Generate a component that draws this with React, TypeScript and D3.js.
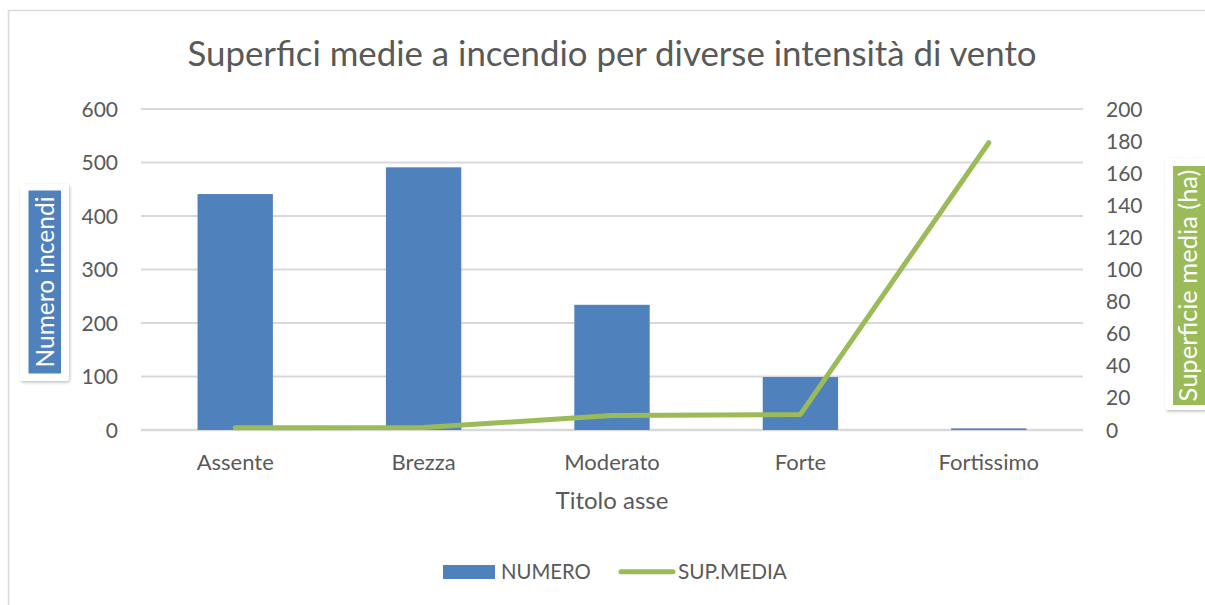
import React from "react";
import * as d3 from "d3";

const categories = ["Assente", "Brezza", "Moderato", "Forte", "Fortissimo"];
const numero = [441, 491, 234, 99, 3];
const supMedia = [1.4, 1.5, 9, 9.7, 179];
const leftTicks = [0, 100, 200, 300, 400, 500, 600];
const rightTicks = [0, 20, 40, 60, 80, 100, 120, 140, 160, 180, 200];

const W = 1205;
const H = 605;
const FONT = "Lato, 'Open Sans', sans-serif";
const TEXT = "#595959";
const BLUE = "#4F81BD";
const GREEN = "#9BBB59";
const GRID = "#D9D9D9";

export default function App() {
  const x = d3.scaleBand<string>().domain(categories).range([141, 1083]).paddingInner(0.6).paddingOuter(0.3);
  const yL = d3.scaleLinear().domain([0, 600]).range([430, 109]);
  const yR = d3.scaleLinear().domain([0, 200]).range([430, 109]);
  const bw = x.bandwidth();
  const line = d3
    .line<number>()
    .x((_, i) => (x(categories[i]) as number) + bw / 2)
    .y((d) => yR(d));

  return (
    <svg width={W} height={H} style={{ position: "absolute", left: 0, top: 0, background: "#fff" }} fontFamily={FONT}>
      <defs>
        <filter id="sh" x="-20%" y="-20%" width="140%" height="140%">
          <feDropShadow dx="1" dy="1.5" stdDeviation="1.5" floodColor="#000" floodOpacity="0.25" />
        </filter>
      </defs>
      <rect x={0} y={0} width={W} height={H} fill="#fff" />
      {/* chart border */}
      <line x1={8} x2={W} y1={10.5} y2={10.5} stroke={GRID} strokeWidth={1.5} />
      <line x1={8.5} x2={8.5} y1={10} y2={H} stroke={GRID} strokeWidth={1.5} />

      {/* title */}
      <text x={612} y={66} textAnchor="middle" fontSize={34.8} fill={TEXT}>
        Superfici medie a incendio per diverse intensità di vento
      </text>

      {/* gridlines */}
      {leftTicks.map((t) => (
        <line key={t} x1={141} x2={1083} y1={yL(t)} y2={yL(t)} stroke={GRID} strokeWidth={t === 0 ? 2.5 : 2} />
      ))}

      {/* left ticks */}
      {leftTicks.map((t) => (
        <text key={t} x={118} y={yL(t)} dy="0.36em" textAnchor="end" fontSize={21} fill={TEXT}>
          {t}
        </text>
      ))}
      {/* right ticks */}
      {rightTicks.map((t) => (
        <text key={t} x={1106} y={yR(t)} dy="0.36em" textAnchor="start" fontSize={21} fill={TEXT}>
          {t}
        </text>
      ))}

      {/* bars */}
      {numero.map((v, i) => (
        <rect key={i} x={x(categories[i])} y={yL(v)} width={bw} height={yL(0) - yL(v)} fill={BLUE} />
      ))}

      {/* line */}
      <path d={line(supMedia) || ""} fill="none" stroke={GREEN} strokeWidth={5} strokeLinecap="round" strokeLinejoin="round" />

      {/* x labels */}
      {categories.map((c) => (
        <text key={c} x={(x(c) as number) + bw / 2} y={470} textAnchor="middle" fontSize={22} fill={TEXT}>
          {c}
        </text>
      ))}
      <text x={612} y={509} textAnchor="middle" fontSize={24} fill={TEXT}>
        Titolo asse
      </text>

      {/* left axis title */}
      <rect x={20} y={184} width={49} height={197} rx={3} fill="#fff" filter="url(#sh)" />
      <rect x={28.5} y={190.5} width={32.5} height={183} fill={BLUE} />
      <text transform="translate(44.7,282) rotate(-90)" textAnchor="middle" dy="0.36em" fontSize={24.5} fill="#fff">
        Numero incendi
      </text>

      {/* right axis title */}
      <rect x={1165} y={158} width={60} height={252} rx={3} fill="#fff" filter="url(#sh)" />
      <rect x={1173} y={166} width={40} height={239} fill={GREEN} />
      <text transform="translate(1188,285.5) rotate(-90)" textAnchor="middle" dy="0.36em" fontSize={25.5} fill="#fff">
        Superficie media (ha)
      </text>

      {/* legend */}
      <rect x={443} y={565} width={52} height={14} fill={BLUE} />
      <text x={501} y={578.5} fontSize={20.3} fill={TEXT}>NUMERO</text>
      <line x1={621} x2={673} y1={571.7} y2={571.7} stroke={GREEN} strokeWidth={5} strokeLinecap="round" />
      <text x={678} y={578.5} fontSize={20.8} fill={TEXT}>SUP.MEDIA</text>
    </svg>
  );
}
